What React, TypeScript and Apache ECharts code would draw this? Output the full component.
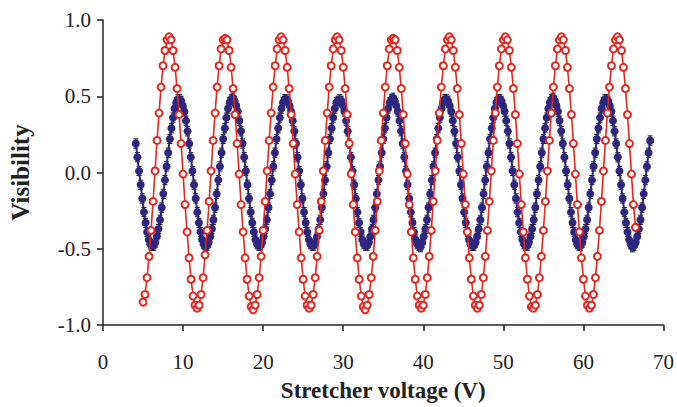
import React, { useEffect, useRef } from "react";
import * as echarts from "echarts";

// Stretcher voltage sweep (V): start and step of each scan
const RED_X0 = 5.0;
const RED_STEP = 0.25;
const BLUE_X0 = 4.1;
const BLUE_STEP = 0.202;
const BLUE_ERR = 0.03;

const X_TICKS = [0, 10, 20, 30, 40, 50, 60, 70];
const Y_TICKS = [-1.0, -0.5, 0.0, 0.5, 1.0];

// Red (open circles) visibility values
const RED_VALUES = [
  -0.85, -0.8, -0.69, -0.55, -0.38, -0.19, 0.01, 0.21, 0.39, 0.56, 0.7, 0.8, 0.87, 0.89, 0.87, 0.8, 0.69, 0.55, 0.38, 0.19, -0.01, -0.21, -0.39, -0.56, -0.7, -0.81, -0.87, -0.89,
  -0.87, -0.8, -0.69, -0.54, -0.38, -0.19, 0.01, 0.21, 0.39, 0.56, 0.7, 0.81, 0.87, 0.88, 0.87, 0.8, 0.69, 0.55, 0.38, 0.19, -0.01, -0.21, -0.39, -0.56, -0.7, -0.81, -0.88, -0.9,
  -0.87, -0.8, -0.69, -0.55, -0.38, -0.19, 0.01, 0.21, 0.39, 0.56, 0.7, 0.81, 0.87, 0.89, 0.87, 0.8, 0.69, 0.55, 0.38, 0.19, -0.01, -0.21, -0.39, -0.56, -0.7, -0.81, -0.87, -0.89,
  -0.87, -0.8, -0.69, -0.55, -0.38, -0.19, 0.01, 0.21, 0.39, 0.56, 0.7, 0.81, 0.87, 0.89, 0.87, 0.8, 0.69, 0.55, 0.38, 0.19, -0.01, -0.21, -0.39, -0.56, -0.7, -0.81, -0.88, -0.9,
  -0.87, -0.8, -0.69, -0.55, -0.38, -0.19, 0.01, 0.21, 0.39, 0.56, 0.7, 0.81, 0.87, 0.88, 0.87, 0.8, 0.69, 0.55, 0.38, 0.19, -0.01, -0.21, -0.39, -0.56, -0.7, -0.81, -0.87, -0.89,
  -0.87, -0.8, -0.69, -0.55, -0.38, -0.19, 0.01, 0.21, 0.39, 0.56, 0.7, 0.81, 0.87, 0.89, 0.87, 0.8, 0.69, 0.55, 0.38, 0.19, -0.01, -0.21, -0.39, -0.56, -0.7, -0.81, -0.87, -0.89,
  -0.87, -0.8, -0.69, -0.55, -0.38, -0.19, 0.01, 0.21, 0.39, 0.56, 0.7, 0.81, 0.87, 0.89, 0.87, 0.8, 0.69, 0.55, 0.38, 0.19, -0.01, -0.21, -0.39, -0.56, -0.7, -0.81, -0.88, -0.89,
  -0.87, -0.8, -0.69, -0.55, -0.38, -0.19, 0.01, 0.21, 0.39, 0.56, 0.7, 0.81, 0.87, 0.89, 0.87, 0.8, 0.69, 0.55, 0.38, 0.19, -0.01, -0.21, -0.39, -0.56, -0.7, -0.81, -0.87, -0.89,
  -0.87, -0.8, -0.69, -0.55, -0.38, -0.19, 0.01, 0.21, 0.39, 0.56, 0.7, 0.81, 0.87, 0.89, 0.87, 0.8, 0.69, 0.55, 0.38, 0.19, -0.01, -0.21, -0.36,
];

// Blue (filled circles with error bars) visibility values
const BLUE_VALUES = [
  0.19, 0.1, 0.01, -0.08, -0.17, -0.26, -0.33, -0.39, -0.44, -0.47, -0.48, -0.48, -0.46, -0.42, -0.37, -0.31, -0.23, -0.14, -0.05, 0.04, 0.13, 0.22, 0.29, 0.36, 0.42, 0.46, 0.48, 0.48, 0.47, 0.44, 0.4, 0.34, 0.27,
  0.19, 0.1, 0.01, -0.08, -0.17, -0.26, -0.33, -0.39, -0.44, -0.47, -0.49, -0.48, -0.46, -0.42, -0.37, -0.31, -0.23, -0.14, -0.05, 0.04, 0.13, 0.22, 0.29, 0.36, 0.42, 0.46, 0.48, 0.49, 0.47, 0.44, 0.4, 0.34, 0.27,
  0.19, 0.1, 0.01, -0.08, -0.17, -0.26, -0.33, -0.39, -0.44, -0.47, -0.48, -0.48, -0.46, -0.42, -0.37, -0.31, -0.23, -0.14, -0.05, 0.04, 0.13, 0.22, 0.29, 0.36, 0.42, 0.46, 0.48, 0.48, 0.47, 0.44, 0.4, 0.34, 0.27,
  0.19, 0.1, 0.01, -0.08, -0.17, -0.26, -0.33, -0.39, -0.44, -0.47, -0.48, -0.48, -0.46, -0.42, -0.37, -0.31, -0.23, -0.14, -0.05, 0.04, 0.13, 0.22, 0.29, 0.36, 0.42, 0.46, 0.47, 0.48, 0.47, 0.44, 0.4, 0.34, 0.27,
  0.19, 0.1, 0.01, -0.08, -0.17, -0.26, -0.33, -0.39, -0.44, -0.47, -0.48, -0.48, -0.46, -0.42, -0.37, -0.31, -0.23, -0.14, -0.05, 0.04, 0.13, 0.22, 0.29, 0.36, 0.42, 0.46, 0.48, 0.49, 0.47, 0.44, 0.4, 0.34, 0.27,
  0.19, 0.1, 0.01, -0.08, -0.17, -0.26, -0.33, -0.39, -0.44, -0.47, -0.48, -0.49, -0.46, -0.42, -0.37, -0.31, -0.23, -0.14, -0.05, 0.04, 0.13, 0.22, 0.29, 0.36, 0.42, 0.46, 0.48, 0.48, 0.47, 0.44, 0.4, 0.34, 0.27,
  0.19, 0.1, 0.01, -0.08, -0.17, -0.26, -0.33, -0.39, -0.44, -0.47, -0.48, -0.48, -0.46, -0.42, -0.37, -0.31, -0.23, -0.14, -0.05, 0.04, 0.13, 0.22, 0.29, 0.36, 0.42, 0.46, 0.48, 0.48, 0.47, 0.44, 0.4, 0.34, 0.27,
  0.19, 0.1, 0.01, -0.08, -0.17, -0.26, -0.33, -0.39, -0.44, -0.47, -0.48, -0.48, -0.46, -0.42, -0.37, -0.31, -0.23, -0.14, -0.05, 0.04, 0.13, 0.22, 0.29, 0.36, 0.42, 0.46, 0.48, 0.49, 0.47, 0.44, 0.4, 0.34, 0.27,
  0.19, 0.1, 0.01, -0.08, -0.17, -0.26, -0.33, -0.39, -0.44, -0.47, -0.48, -0.48, -0.46, -0.42, -0.37, -0.31, -0.23, -0.14, -0.05, 0.04, 0.13, 0.22, 0.29, 0.36, 0.42, 0.46, 0.48, 0.48, 0.47, 0.44, 0.4, 0.34, 0.27,
  0.19, 0.1, 0.01, -0.08, -0.17, -0.26, -0.33, -0.39, -0.44, -0.47, -0.49, -0.48, -0.46, -0.42, -0.37, -0.31, -0.23, -0.14, -0.05, 0.04, 0.13, 0.21,
];

const FONT = "Liberation Serif";
const RED = "#e3261f";
const BLUE = "#2c2680";
const AXIS = "#222222";

export default function App() {
  const ref = useRef<HTMLDivElement>(null);

  useEffect(() => {
    if (!ref.current) return;
    const chart = echarts.init(ref.current, null, { renderer: "svg" });

    const redData = RED_VALUES.map((v, i) => [RED_X0 + i * RED_STEP, v]);
    const blueData = BLUE_VALUES.map((v, i) => [BLUE_X0 + i * BLUE_STEP, v]);

    chart.setOption({
      animation: false,
      backgroundColor: "#ffffff",
      grid: { left: 101, right: 11, top: 20, bottom: 79, containLabel: false },
      xAxis: {
        type: "value",
        min: X_TICKS[0],
        max: X_TICKS[X_TICKS.length - 1],
        interval: 10,
        name: "Stretcher voltage (V)",
        nameLocation: "middle",
        nameGap: 54,
        nameTextStyle: { fontFamily: FONT, fontWeight: "bold", fontSize: 23, color: AXIS },
        axisLine: { show: true, onZero: false, lineStyle: { color: AXIS, width: 1.5 } },
        axisTick: { show: true, inside: false, length: 6, lineStyle: { color: AXIS, width: 1.5 } },
        axisLabel: { fontFamily: FONT, fontSize: 21, color: AXIS, margin: 26 },
        splitLine: { show: false },
      },
      yAxis: {
        type: "value",
        min: Y_TICKS[0],
        max: Y_TICKS[Y_TICKS.length - 1],
        interval: 0.5,
        name: "Visibility",
        nameLocation: "middle",
        nameGap: 70,
        nameTextStyle: { fontFamily: FONT, fontWeight: "bold", fontSize: 25, color: AXIS },
        axisLine: { show: true, onZero: false, lineStyle: { color: AXIS, width: 1.5 } },
        axisTick: { show: true, inside: false, length: 6, lineStyle: { color: AXIS, width: 1.5 } },
        axisLabel: {
          fontFamily: FONT,
          fontSize: 21,
          color: AXIS,
          margin: 12,
          formatter: (v: number) => v.toFixed(1),
        },
        splitLine: { show: false },
      },
      series: [
        {
          type: "custom",
          name: "errors",
          z: 2,
          renderItem: (params: any, api: any) => {
            const x = api.value(0);
            const y = api.value(1);
            const top = api.coord([x, y + BLUE_ERR]);
            const bot = api.coord([x, y - BLUE_ERR]);
            const w = 2.5;
            const st = { stroke: "#111111", lineWidth: 1 };
            return {
              type: "group",
              children: [
                { type: "line", shape: { x1: top[0], y1: top[1], x2: bot[0], y2: bot[1] }, style: st },
                { type: "line", shape: { x1: top[0] - w, y1: top[1], x2: top[0] + w, y2: top[1] }, style: st },
                { type: "line", shape: { x1: bot[0] - w, y1: bot[1], x2: bot[0] + w, y2: bot[1] }, style: st },
              ],
            };
          },
          data: blueData,
        },
        {
          type: "line",
          name: "blue",
          z: 3,
          data: blueData,
          symbol: "circle",
          symbolSize: 8,
          showAllSymbol: true,
          itemStyle: { color: BLUE },
          lineStyle: { color: BLUE, width: 2 },
        },
        {
          type: "line",
          name: "red",
          z: 4,
          data: redData,
          symbol: "emptyCircle",
          symbolSize: 7,
          showAllSymbol: true,
          itemStyle: { color: RED, borderColor: RED, borderWidth: 1.3 },
          lineStyle: { color: RED, width: 1.6 },
        },
      ],
    });

    return () => chart.dispose();
  }, []);

  return (
    <div
      ref={ref}
      style={{ position: "fixed", left: 0, top: 0, width: 677, height: 407, background: "#fff" }}
    />
  );
}
